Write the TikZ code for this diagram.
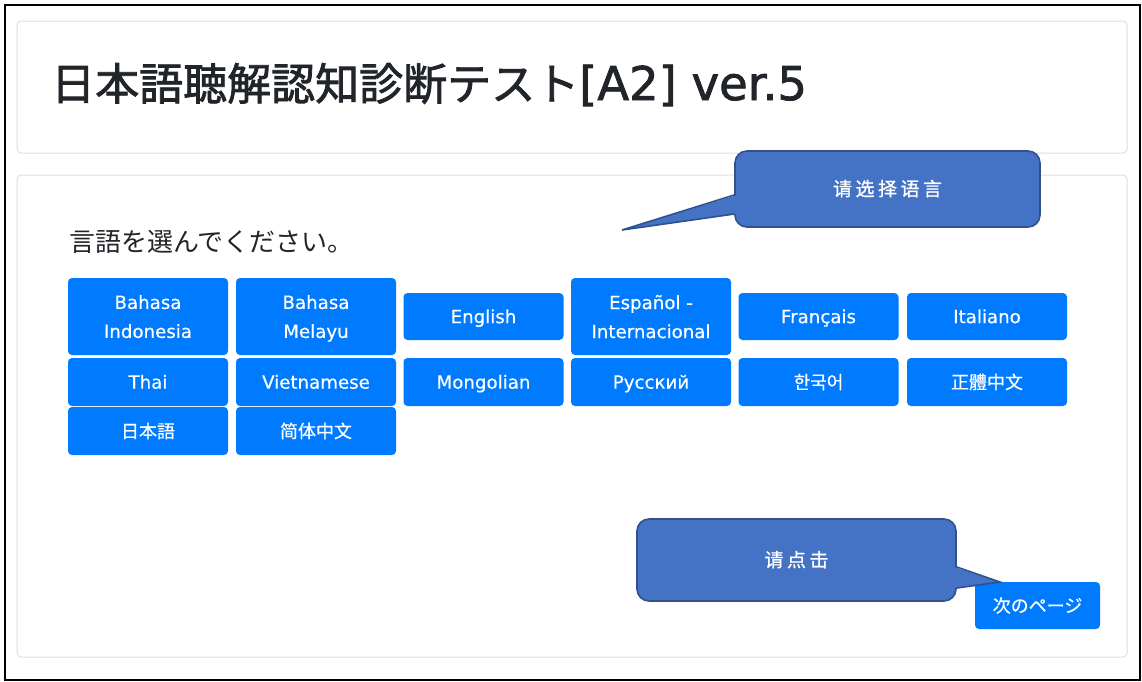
\documentclass[tikz,border=0pt]{standalone}
\usepackage{fontspec}
\setmainfont{DejaVu Sans}[FakeBold=0.5]
\newfontfamily\jp{Noto Sans CJK JP}
\newfontfamily\jpb[FakeBold=0.5]{Noto Sans CJK JP}
\newfontfamily\jptitle[FakeBold=1.8]{Noto Sans CJK JP}
\newfontfamily\lattitle[FakeBold=1.6]{DejaVu Sans}
\newfontfamily\cncall[FakeBold=1]{Noto Sans CJK SC}
\newfontfamily\cnscb[FakeBold=0.5]{Noto Sans CJK SC}
\newfontfamily\cntcb[FakeBold=0.5]{Noto Sans CJK TC}
\newfontfamily\krfb[FakeBold=0.5]{Noto Sans CJK KR}
\usetikzlibrary{calc}
\definecolor{btnblue}{HTML}{007BFF}
\definecolor{callfill}{HTML}{4472C4}
\definecolor{callline}{HTML}{2F528F}
\definecolor{cardline}{HTML}{DFDFDF}
\definecolor{ink}{HTML}{212529}
\begin{document}
\begin{tikzpicture}[x=1pt,y=-1pt,
  card/.style={draw=cardline, line width=1pt, rounded corners=4pt, minimum width=1110pt, inner sep=0pt},
  btn/.style={fill=btnblue, rounded corners=4pt, text=white, minimum width=160pt, inner sep=0pt,
    align=center, text depth=0pt, font=\fontsize{18.2}{29}\selectfont},
  one/.style={btn, minimum height=47pt, text height=13.3pt},
  two/.style={btn, minimum height=77pt},
  cjkb/.style={font=\fontsize{18}{22}\selectfont, text height=13.6pt},
  callout/.style={fill=callfill, draw=callline, line width=1.6pt, rounded corners=12pt, inner sep=0pt,
    text=white, text height=13.6pt, text depth=0pt, font=\cncall\fontsize{19}{22}\selectfont},
  ptr/.style={draw=callline, line width=1.6pt, line join=miter},
  ptrfill/.style={fill=callfill}]
\useasboundingbox (0,0) rectangle (1142,681);
\fill[white] (0,0) rectangle (1142,681);
\draw[line width=2pt, black] (5,4.5) rectangle (1139.5,679.5);

% cards
\node[card, minimum height=132pt] (card1) at (572,87) {};
\node[card, minimum height=482pt] (card2) at (572,416) {};

% title and prompt
\node[anchor=base west, inner sep=0pt, text=ink, font=\fontsize{44}{50}\selectfont] (title) at (51,100)
  {{\jptitle 日本語聴解認知診断テスト}{\lattitle\fontsize{46.5}{50}\selectfont [A2] ver.5}};
\node[anchor=base west, inner sep=0pt, text=ink, font=\jp\fontsize{26}{30}\selectfont] (prompt) at (69,251) {言語を選んでください。};

% row 1
\node[two] (b11) at (148,316.5) {Bahasa\\Indonesia};
\node[two] (b12) at (316,316.5) {Bahasa\\Melayu};
\node[one] (b13) at (483.5,316.5) {English};
\node[two] (b14) at (651,316.5) {Español -\\Internacional};
\node[one] (b15) at (818.5,316.5) {Français};
\node[one] (b16) at (987,316.5) {Italiano};
% row 2
\node[one, minimum height=48pt] (b21) at (148,382) {Thai};
\node[one, minimum height=48pt] (b22) at (316,382) {Vietnamese};
\node[one, minimum height=48pt] (b23) at (483.5,382) {Mongolian};
\node[one, minimum height=48pt] (b24) at (651,382) {Русский};
\node[one, minimum height=48pt, cjkb] (b25) at (818.5,382) {\krfb 한국어};
\node[one, minimum height=48pt, cjkb] (b26) at (987,382) {\cntcb 正體中文};
% row 3
\node[one, minimum height=48pt, cjkb] (b31) at (148,431) {\jpb 日本語};
\node[one, minimum height=48pt, cjkb] (b32) at (316,431) {\cnscb 简体中文};

% next page button
\node[one, minimum width=125pt, minimum height=47pt, cjkb] (next) at (1037.5,605.5) {\jpb 次のページ};

% callout 1
\node[callout, minimum width=305pt, minimum height=76pt] (c1) at (887.5,189) {请\kern3.5pt 选\kern3.5pt 择\kern3.5pt 语\kern3.5pt 言};
\coordinate (t1) at (622,230);
\fill[ptrfill] ($(c1.west)+(3,6)$) -- (t1) -- ($(c1.west)+(3,25)$) -- cycle;
\draw[ptr] ($(c1.west)+(0,6)$) -- (t1) -- ($(c1.west)+(0,25)$);

% callout 2
\node[callout, minimum width=319pt, minimum height=82pt] (c2) at (796.5,560) {请\kern3.5pt 点\kern3.5pt 击};
\coordinate (t2) at (1000,582);
\fill[ptrfill] ($(c2.east)+(-3,7)$) -- (t2) -- ($(c2.east)+(-3,28)$) -- cycle;
\draw[ptr] ($(c2.east)+(0,7)$) -- (t2) -- ($(c2.east)+(0,28)$);
\end{tikzpicture}
\end{document}
